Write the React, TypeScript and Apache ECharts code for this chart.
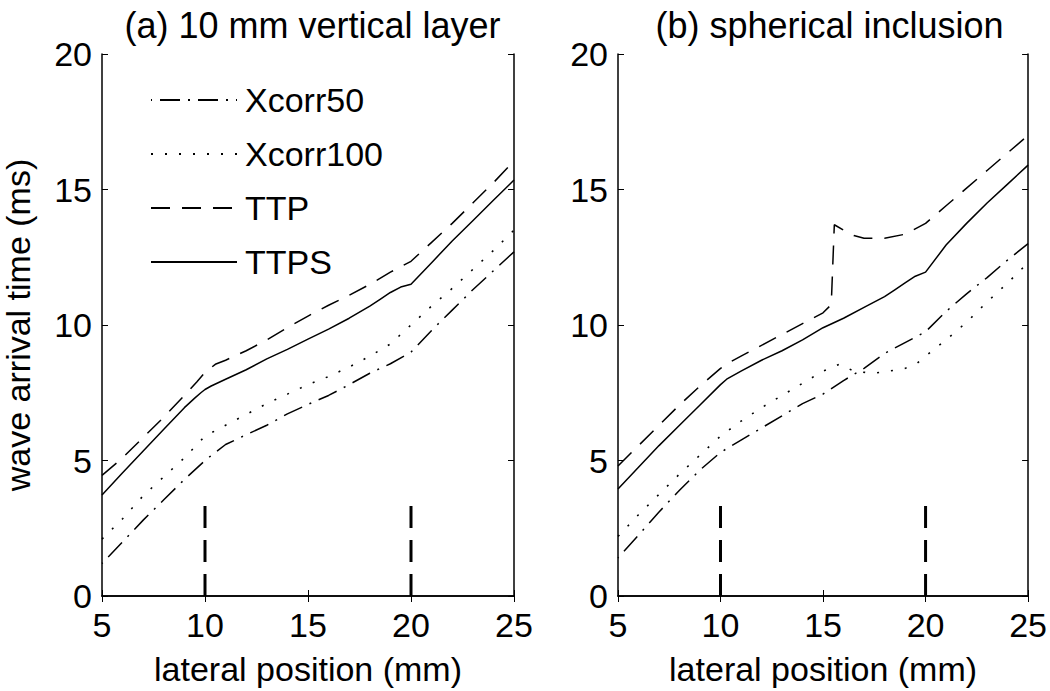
import React, { useEffect, useRef } from "react";
import * as echarts from "echarts";

const X_TICKS = [5, 10, 15, 20, 25];
const Y_TICKS = [0, 5, 10, 15, 20];
const TITLES = ["(a) 10 mm vertical layer", "(b) spherical inclusion"];
const X_NAME = "lateral position (mm)";
const Y_NAME = "wave arrival time (ms)";
const SERIES_NAMES = ["Xcorr50", "Xcorr100", "TTP", "TTPS"];

// Panel (a)
const A_XCORR50_X = [5, 6, 7, 8, 9, 10, 10.5, 11, 12, 13, 14, 15, 16, 17, 18, 19, 20, 21, 22, 23, 24, 25];
const A_XCORR50_Y = [1.2, 2.0, 2.8, 3.55, 4.3, 5.0, 5.3, 5.59, 5.95, 6.3, 6.72, 7.07, 7.4, 7.8, 8.22, 8.57, 9.0, 9.8, 10.55, 11.3, 12.0, 12.7];
const A_XCORR100_X = [5, 6, 7, 8, 9, 10, 11, 12, 13, 14, 15, 16, 17, 18, 19, 20, 21, 22, 23, 24, 25];
const A_XCORR100_Y = [2.1, 2.85, 3.7, 4.4, 5.1, 5.9, 6.3, 6.7, 7.1, 7.45, 7.8, 8.1, 8.45, 8.85, 9.3, 10.0, 10.7, 11.35, 12.05, 12.75, 13.5];
const A_TTP_X = [5, 6, 7, 8, 9, 9.6, 10, 10.5, 11, 12, 13, 14, 15, 16, 17, 18, 19, 19.5, 20, 21, 22, 23, 24, 25];
const A_TTP_Y = [4.45, 5.1, 5.85, 6.6, 7.4, 7.9, 8.25, 8.55, 8.7, 9.05, 9.45, 9.9, 10.33, 10.73, 11.1, 11.5, 11.95, 12.15, 12.35, 13.05, 13.75, 14.5, 15.25, 16.05];
const A_TTPS_X = [5, 6, 7, 8, 9, 9.5, 9.8, 10, 10.3, 11, 12, 13, 14, 15, 16, 17, 18, 18.5, 19, 19.5, 20, 21, 22, 23, 24, 25];
const A_TTPS_Y = [3.73, 4.55, 5.35, 6.15, 6.95, 7.3, 7.5, 7.62, 7.75, 8.0, 8.35, 8.75, 9.1, 9.48, 9.85, 10.25, 10.7, 10.95, 11.2, 11.4, 11.5, 12.3, 13.1, 13.85, 14.6, 15.35];

// Panel (b)
const B_XCORR50_X = [5, 6, 7, 8, 9, 10, 11, 12, 13, 14, 15, 16, 17, 18, 19, 20, 21, 22, 23, 24, 25];
const B_XCORR50_Y = [1.4, 2.25, 3.1, 3.9, 4.65, 5.3, 5.75, 6.2, 6.65, 7.1, 7.45, 7.95, 8.4, 8.95, 9.35, 9.75, 10.5, 11.15, 11.75, 12.4, 13.0];
const B_XCORR100_X = [5, 6, 7, 8, 9, 10, 11, 12, 13, 14, 15, 15.8, 16.5, 17.4, 18, 19, 19.6, 20, 21, 22, 23, 24, 25];
const B_XCORR100_Y = [2.2, 3.0, 3.75, 4.5, 5.2, 5.9, 6.45, 6.95, 7.4, 7.85, 8.3, 8.55, 8.3, 8.22, 8.27, 8.4, 8.6, 8.85, 9.45, 10.1, 10.85, 11.55, 12.3];
const B_TTP_X = [5, 6, 7, 8, 9, 10, 10.5, 11, 12, 13, 14, 15, 15.4, 15.55, 16, 16.5, 17, 18, 19, 20, 21, 22, 23, 24, 25];
const B_TTP_Y = [4.8, 5.55, 6.3, 7.05, 7.75, 8.4, 8.65, 8.85, 9.25, 9.65, 10.05, 10.45, 10.75, 13.7, 13.5, 13.3, 13.2, 13.2, 13.35, 13.75, 14.4, 15.05, 15.7, 16.35, 17.0];
const B_TTPS_X = [5, 6, 7, 8, 9, 10, 10.3, 11, 12, 13, 14, 15, 16, 17, 18, 18.5, 19, 19.5, 20, 21, 22, 23, 24, 25];
const B_TTPS_Y = [3.95, 4.75, 5.55, 6.3, 7.05, 7.8, 8.0, 8.3, 8.7, 9.05, 9.45, 9.9, 10.25, 10.65, 11.05, 11.3, 11.55, 11.8, 11.95, 12.95, 13.75, 14.5, 15.2, 15.9];

// Vertical layer/inclusion boundary markers
const MARKER_X = [10, 20];
const MARKER_Y = [0, 3.5];

const FONT = "'Liberation Sans', Arial, Helvetica, sans-serif";
const FS = 34;

const zip = (xs: number[], ys: number[]) => xs.map((x, i) => [x, ys[i]]);

const STYLES: Record<string, any> = {
  Xcorr50: { type: [20, 8, 2, 8], dashOffset: 29, width: 1.5 },
  Xcorr100: { type: [2, 12], width: 1.6 },
  TTP: { type: [19, 12], width: 1.5 },
  TTPS: { type: "solid", width: 1.5 },
};

export default function App() {
  const ref = useRef<HTMLDivElement>(null);
  useEffect(() => {
    if (!ref.current) return;
    const chart = echarts.init(ref.current, undefined, { renderer: "svg" });
    const gridW = 413;
    const gridH = 542;
    const grids = [
      { left: 101, top: 54, width: gridW, height: gridH },
      { left: 618, top: 54, width: gridW, height: gridH },
    ];
    const axisLine = { show: true, lineStyle: { color: "#000", width: 1.5 } };
    const tick = { show: true, inside: true, length: 6, lineStyle: { color: "#000", width: 1 } };
    const xAxes: any[] = [];
    const yAxes: any[] = [];
    grids.forEach((_, g) => {
      xAxes.push({
        type: "value", gridIndex: g, min: X_TICKS[0], max: X_TICKS[X_TICKS.length - 1], interval: 5,
        position: "bottom", axisLine, splitLine: { show: false }, axisTick: tick,
        axisLabel: { show: true, color: "#000", fontSize: FS, fontFamily: FONT, margin: 12 },
        name: X_NAME, nameLocation: "middle", nameGap: 56,
        nameTextStyle: { color: "#000", fontSize: FS, fontFamily: FONT },
      });
      xAxes.push({
        type: "value", gridIndex: g, min: X_TICKS[0], max: X_TICKS[X_TICKS.length - 1], interval: 5,
        position: "top", axisLine, splitLine: { show: false }, axisTick: tick,
        axisLabel: { show: false },
      });
      yAxes.push({
        type: "value", gridIndex: g, min: Y_TICKS[0], max: Y_TICKS[Y_TICKS.length - 1], interval: 5,
        position: "left", axisLine, splitLine: { show: false }, axisTick: tick,
        axisLabel: { show: true, color: "#000", fontSize: FS, fontFamily: FONT, margin: 10 },
        name: g === 0 ? Y_NAME : "", nameLocation: "middle", nameGap: 67,
        nameTextStyle: { color: "#000", fontSize: FS, fontFamily: FONT },
      });
      yAxes.push({
        type: "value", gridIndex: g, min: Y_TICKS[0], max: Y_TICKS[Y_TICKS.length - 1], interval: 5,
        position: "right", axisLine, splitLine: { show: false }, axisTick: tick,
        axisLabel: { show: false },
      });
    });

    const panels = [
      [zip(A_XCORR50_X, A_XCORR50_Y), zip(A_XCORR100_X, A_XCORR100_Y), zip(A_TTP_X, A_TTP_Y), zip(A_TTPS_X, A_TTPS_Y)],
      [zip(B_XCORR50_X, B_XCORR50_Y), zip(B_XCORR100_X, B_XCORR100_Y), zip(B_TTP_X, B_TTP_Y), zip(B_TTPS_X, B_TTPS_Y)],
    ];
    const series: any[] = [];
    panels.forEach((panel, g) => {
      panel.forEach((data, i) => {
        const name = SERIES_NAMES[i];
        series.push({
          type: "line", name, data, xAxisIndex: g * 2, yAxisIndex: g * 2,
          symbol: "none", showSymbol: false, silent: true,
          lineStyle: { color: "#000", ...STYLES[name], cap: "butt" },
          itemStyle: { color: "#000" },
        });
      });
      MARKER_X.forEach((mx) => {
        series.push({
          type: "line", name: "marker", data: MARKER_Y.map((y) => [mx, y]),
          xAxisIndex: g * 2, yAxisIndex: g * 2, symbol: "none", silent: true,
          lineStyle: { color: "#000", width: 3, type: [22, 12] },
        });
      });
    });

    chart.setOption({
      animation: false,
      backgroundColor: "#fff",
      textStyle: { fontFamily: FONT },
      title: TITLES.map((t, g) => ({
        text: t, left: grids[g].left + gridW / 2, top: 2, textAlign: "center",
        textStyle: { color: "#000", fontSize: 36, fontWeight: "normal", fontFamily: FONT },
      })),
      legend: {
        data: SERIES_NAMES, orient: "vertical", left: 145, top: 75,
        itemWidth: 86, itemHeight: 14, itemGap: 14,
        itemStyle: { opacity: 0 },
        textStyle: { color: "#000", fontSize: FS, fontFamily: FONT, lineHeight: 40, padding: [0, 0, 0, 3] },
        selectedMode: false,
      },
      grid: grids,
      xAxis: xAxes,
      yAxis: yAxes,
      series,
    });
    return () => chart.dispose();
  }, []);
  return (
    <div
      ref={ref}
      style={{ position: "absolute", left: 0, top: 0, width: 1050, height: 691, background: "#fff" }}
    />
  );
}
